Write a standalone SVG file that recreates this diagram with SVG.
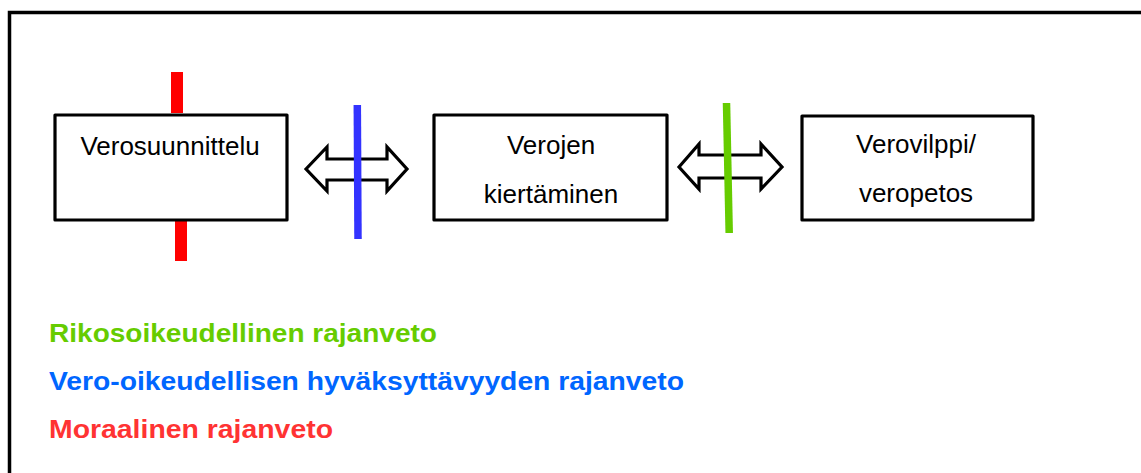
<svg xmlns="http://www.w3.org/2000/svg" width="1141" height="473" viewBox="0 0 1141 473">
<style>
.frame{fill:none;stroke:#000;stroke-width:3.5}
.box{fill:#fff;stroke:#000;stroke-width:3.2;stroke-linejoin:round}
.arrow{fill:#fff;stroke:#000;stroke-width:3.2;stroke-linejoin:miter}
.lbl{font-family:"Liberation Sans",Arial,sans-serif;font-size:26px;fill:#000;text-anchor:middle}
.leg{font-family:"Liberation Sans",Arial,sans-serif;font-size:26px;font-weight:bold}
</style>
<rect width="1141" height="473" fill="#fff"/>
<rect class="frame" x="9.5" y="12.5" width="1200" height="500"/>
<g id="limits">
<rect x="171" y="72" width="12" height="41" fill="#ff0000"/>
<rect x="175" y="220" width="12" height="41" fill="#ff0000"/>
</g>
<g id="node-verosuunnittelu">
<rect class="box" x="55" y="115" width="232" height="105"/>
<text class="lbl" x="170" y="155">Verosuunnittelu</text>
</g>
<g id="node-verojen-kiertaminen">
<rect class="box" x="434" y="115" width="233" height="105"/>
<text class="lbl" x="551" y="154">Verojen</text>
<text class="lbl" x="551" y="203">kiertäminen</text>
</g>
<g id="node-verovilppi">
<rect class="box" x="802" y="116" width="231" height="104"/>
<text class="lbl" x="916" y="153">Verovilppi/</text>
<text class="lbl" x="916" y="202">veropetos</text>
</g>
<g id="connectors">
<polygon class="arrow" points="306,169 327,147 327,159 387,159 387,147 407,169 387,191 387,180 327,180 327,191"/>
<polygon class="arrow" points="679,167 699,144 699,155 761,155 761,144 782,167 761,189 761,178 699,178 699,189"/>
<line x1="357.3" y1="105" x2="358" y2="239" stroke="#3333ff" stroke-width="7.5"/>
<line x1="726.5" y1="103" x2="729.2" y2="233" stroke="#66cc00" stroke-width="7.5"/>
</g>
<g id="legend">
<text class="leg" x="49" y="342" fill="#66cc00" textLength="388" lengthAdjust="spacingAndGlyphs">Rikosoikeudellinen rajanveto</text>
<text class="leg" x="49" y="390" fill="#0066ff" textLength="635" lengthAdjust="spacingAndGlyphs">Vero-oikeudellisen hyväksyttävyyden rajanveto</text>
<text class="leg" x="49" y="438" fill="#ff3333" textLength="284" lengthAdjust="spacingAndGlyphs">Moraalinen rajanveto</text>
</g>
</svg>
